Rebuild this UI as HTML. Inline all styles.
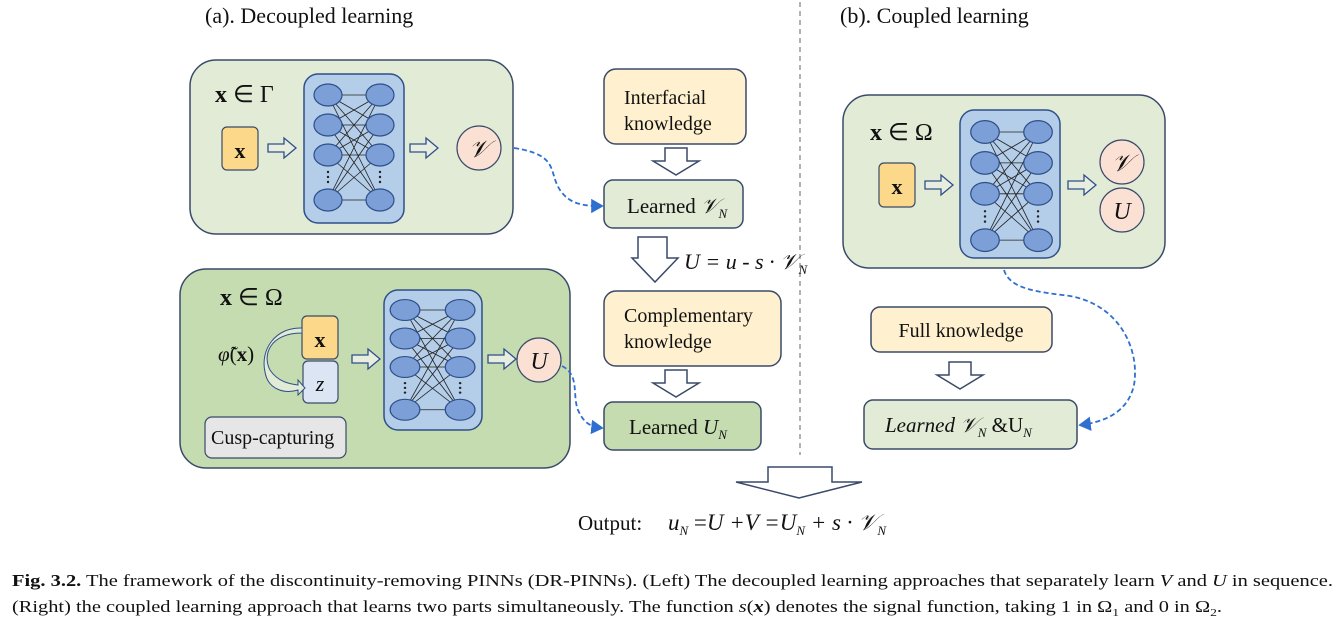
<!DOCTYPE html>
<html><head><meta charset="utf-8"><style>
html,body{margin:0;padding:0;background:#fff;}
svg{display:block;}
text{font-family:"Liberation Serif",serif;fill:#111;}
</style></head><body>
<svg width="1336" height="625" viewBox="0 0 1336 625" xmlns="http://www.w3.org/2000/svg">
<defs>
<g id="nn">
 <g stroke="#222" stroke-width="0.8" fill="none">
  <line x1="0" y1="0" x2="52" y2="0"/><line x1="0" y1="30" x2="52" y2="30"/><line x1="0" y1="60" x2="52" y2="60"/><line x1="0" y1="105" x2="52" y2="105"/>
  <line x1="0" y1="0" x2="52" y2="30"/><line x1="0" y1="0" x2="52" y2="60"/><line x1="0" y1="0" x2="52" y2="105"/>
  <line x1="0" y1="30" x2="52" y2="0"/><line x1="0" y1="30" x2="52" y2="60"/><line x1="0" y1="30" x2="52" y2="105"/>
  <line x1="0" y1="60" x2="52" y2="0"/><line x1="0" y1="60" x2="52" y2="30"/><line x1="0" y1="60" x2="52" y2="105"/>
  <line x1="0" y1="105" x2="52" y2="0"/><line x1="0" y1="105" x2="52" y2="30"/><line x1="0" y1="105" x2="52" y2="60"/>
 </g>
 <g fill="#7b9fd6" stroke="#2e4f8a" stroke-width="1.2">
  <ellipse cx="0" cy="0" rx="14" ry="11"/><ellipse cx="0" cy="30" rx="14" ry="11"/><ellipse cx="0" cy="60" rx="14" ry="11"/><ellipse cx="0" cy="105" rx="14" ry="11"/>
  <ellipse cx="52" cy="0" rx="14" ry="11"/><ellipse cx="52" cy="30" rx="14" ry="11"/><ellipse cx="52" cy="60" rx="14" ry="11"/><ellipse cx="52" cy="105" rx="14" ry="11"/>
 </g>
 <g fill="#222"><circle cx="0" cy="77" r="1.2"/><circle cx="0" cy="82" r="1.2"/><circle cx="0" cy="87" r="1.2"/><circle cx="52" cy="77" r="1.2"/><circle cx="52" cy="82" r="1.2"/><circle cx="52" cy="87" r="1.2"/></g>
</g>
<marker id="ah" markerWidth="8" markerHeight="8" refX="6" refY="4" orient="auto"><path d="M0,0 L7,4 L0,8 z" fill="#2e6fd0"/></marker>
</defs>

<!-- titles -->
<text x="205" y="23" font-size="22">(a). Decoupled learning</text>
<text x="840" y="23" font-size="22">(b). Coupled learning</text>
<line x1="800" y1="2" x2="800" y2="455" stroke="#999" stroke-width="1.5" stroke-dasharray="5,4"/>

<!-- top-left box -->
<rect x="190" y="60" width="323" height="174" rx="26" fill="#e2ebd5" stroke="#3a4a6a" stroke-width="1.5"/>
<text x="215" y="102" font-size="24" font-weight="bold">x<tspan font-weight="normal"> ∈ Γ</tspan></text>
<rect x="304" y="74" width="100" height="149" rx="14" fill="#b4cde8" stroke="#2e4f8a" stroke-width="1.5"/>
<use href="#nn" transform="translate(328,95)"/>
<rect x="222" y="127" width="36" height="43" rx="5" fill="#fcd98a" stroke="#3a4a6a" stroke-width="1.2"/>
<text x="240" y="158" font-size="22" font-weight="bold" text-anchor="middle">x</text>
<path d="M268,144 h16 v-6 l12,10 l-12,10 v-6 h-16 z" fill="#e8eedf" stroke="#2e4f8a" stroke-width="1.3"/>
<path d="M410,144 h16 v-6 l12,10 l-12,10 v-6 h-16 z" fill="#e8eedf" stroke="#2e4f8a" stroke-width="1.3"/>
<circle cx="479" cy="148" r="22" fill="#fbe0d4" stroke="#3a4a6a" stroke-width="1.2"/>
<text x="479" y="157" font-size="24" font-style="italic" text-anchor="middle">𝒱</text>

<!-- bottom-left box -->
<rect x="180" y="269" width="390" height="199" rx="26" fill="#c5dbb0" stroke="#3a4a6a" stroke-width="1.5"/>
<text x="220" y="305" font-size="24" font-weight="bold">x<tspan font-weight="normal"> ∈ Ω</tspan></text>
<rect x="384" y="290" width="98" height="140" rx="14" fill="#b4cde8" stroke="#2e4f8a" stroke-width="1.5"/>
<use href="#nn" transform="translate(405,310) scale(1.06,0.95)"/>
<rect x="302" y="316" width="36" height="43" rx="5" fill="#fcd98a" stroke="#3a4a6a" stroke-width="1.2"/>
<text x="320" y="347" font-size="22" font-weight="bold" text-anchor="middle">x</text>
<rect x="303" y="361" width="35" height="42" rx="5" fill="#dbe5f3" stroke="#3a4a6a" stroke-width="1.2"/>
<text x="320" y="391" font-size="22" font-style="italic" text-anchor="middle">z</text>
<path d="M302,333 C270,333 262,355 270,370 C278,382 290,384 298,385 l0,-5 l7,8 l-7,7 l0,-5 C285,394 268,390 265,372 C260,350 275,327 302,328 z" fill="#e2ebd5" stroke="#2e4f8a" stroke-width="1"/>
<text x="218" y="361" font-size="21"><tspan font-style="italic">φ̃</tspan>(<tspan font-weight="bold">x</tspan>)</text>
<rect x="205" y="417" width="141" height="41" rx="7" fill="#e6e6e6" stroke="#3a4a6a" stroke-width="1.2"/>
<text x="211" y="444" font-size="20">Cusp-capturing</text>
<path d="M352,355 h16 v-6 l12,10 l-12,10 v-6 h-16 z" fill="#e8eedf" stroke="#2e4f8a" stroke-width="1.3"/>
<path d="M488,355 h16 v-6 l12,10 l-12,10 v-6 h-16 z" fill="#e8eedf" stroke="#2e4f8a" stroke-width="1.3"/>
<circle cx="539" cy="360" r="22" fill="#fbe0d4" stroke="#3a4a6a" stroke-width="1.2"/>
<text x="539" y="369" font-size="24" font-style="italic" text-anchor="middle">U</text>

<!-- middle column -->
<rect x="604" y="69" width="142" height="75" rx="12" fill="#fff1cf" stroke="#3a4a6a" stroke-width="1.5"/>
<text x="624" y="104" font-size="20">Interfacial</text>
<text x="624" y="130" font-size="20">knowledge</text>
<path d="M665,148 h22 v13 h12 l-23,14 l-23,-14 h12 z" fill="#fff" stroke="#3a4a6a" stroke-width="1.5"/>
<rect x="604" y="180" width="139" height="48" rx="9" fill="#e2ebd5" stroke="#3a4a6a" stroke-width="1.5"/>
<text x="627" y="213" font-size="21">Learned <tspan font-style="italic">𝒱</tspan><tspan font-size="13" font-style="italic" dy="5">N</tspan></text>
<path d="M638,237 h29 v21 h11 l-23,24 l-23,-24 h6 z" fill="#fff" stroke="#3a4a6a" stroke-width="1.5"/>
<text x="684" y="269" font-size="22" font-style="italic">U = u - s · 𝒱<tspan font-size="13" dy="5">N</tspan></text>
<rect x="604" y="291" width="177" height="75" rx="12" fill="#fff1cf" stroke="#3a4a6a" stroke-width="1.5"/>
<text x="624" y="322" font-size="20">Complementary</text>
<text x="624" y="348" font-size="20">knowledge</text>
<path d="M665,370 h22 v13 h12 l-23,14 l-23,-14 h12 z" fill="#fff" stroke="#3a4a6a" stroke-width="1.5"/>
<rect x="604" y="402" width="157" height="48" rx="9" fill="#c5dbb0" stroke="#3a4a6a" stroke-width="1.5"/>
<text x="629" y="434" font-size="21">Learned <tspan font-style="italic">U</tspan><tspan font-size="13" font-style="italic" dy="5">N</tspan></text>

<!-- dashed connectors left -->
<path d="M514,148 C560,155 548,172 560,190 C570,205 585,206 602,206" fill="none" stroke="#2e6fd0" stroke-width="1.8" stroke-dasharray="5,3" marker-end="url(#ah)"/>
<path d="M562,366 C580,375 572,395 578,410 C584,424 592,427 602,428" fill="none" stroke="#2e6fd0" stroke-width="1.8" stroke-dasharray="5,3" marker-end="url(#ah)"/>

<!-- right box -->
<rect x="843" y="95" width="322" height="173" rx="26" fill="#e2ebd5" stroke="#3a4a6a" stroke-width="1.5"/>
<text x="870" y="140" font-size="24" font-weight="bold">x<tspan font-weight="normal"> ∈ Ω</tspan></text>
<rect x="960" y="110" width="100" height="148" rx="14" fill="#b4cde8" stroke="#2e4f8a" stroke-width="1.5"/>
<use href="#nn" transform="translate(985,132) scale(1.02,1.03)"/>
<rect x="879" y="163" width="36" height="44" rx="5" fill="#fcd98a" stroke="#3a4a6a" stroke-width="1.2"/>
<text x="897" y="194" font-size="22" font-weight="bold" text-anchor="middle">x</text>
<path d="M925,181 h16 v-6 l12,10 l-12,10 v-6 h-16 z" fill="#e8eedf" stroke="#2e4f8a" stroke-width="1.3"/>
<path d="M1068,181 h16 v-6 l12,10 l-12,10 v-6 h-16 z" fill="#e8eedf" stroke="#2e4f8a" stroke-width="1.3"/>
<circle cx="1122" cy="162" r="22" fill="#fbe0d4" stroke="#3a4a6a" stroke-width="1.2"/>
<text x="1122" y="171" font-size="24" font-style="italic" text-anchor="middle">𝒱</text>
<circle cx="1122" cy="210" r="22" fill="#fbe0d4" stroke="#3a4a6a" stroke-width="1.2"/>
<text x="1122" y="219" font-size="24" font-style="italic" text-anchor="middle">U</text>

<rect x="871" y="307" width="181" height="45" rx="9" fill="#fff1cf" stroke="#3a4a6a" stroke-width="1.5"/>
<text x="961" y="337" font-size="20" text-anchor="middle">Full knowledge</text>
<path d="M949,362 h22 v13 h12 l-23,14 l-23,-14 h12 z" fill="#fff" stroke="#3a4a6a" stroke-width="1.5"/>
<rect x="864" y="400" width="213" height="49" rx="9" fill="#e2ebd5" stroke="#3a4a6a" stroke-width="1.5"/>
<text x="885" y="432" font-size="21"><tspan font-style="italic">Learned 𝒱</tspan><tspan font-size="13" font-style="italic" dy="5">N</tspan><tspan dy="-5"> &amp;U</tspan><tspan font-size="13" font-style="italic" dy="5">N</tspan></text>
<path d="M1004,270 C1010,290 1040,292 1070,296 C1120,305 1140,350 1134,385 C1128,412 1105,422 1080,425" fill="none" stroke="#2e6fd0" stroke-width="1.8" stroke-dasharray="5,3" marker-end="url(#ah)"/>

<!-- output -->
<path d="M768,467 h64 v15 h30 l-63,16 l-63,-16 h32 z" fill="#fff" stroke="#3a4a6a" stroke-width="1.5"/>
<text x="578" y="530" font-size="21">Output:</text>
<text x="668" y="530" font-size="23" font-style="italic">u<tspan font-size="13" dy="5">N</tspan><tspan dy="-5" font-style="normal"> =</tspan>U +V =U<tspan font-size="13" dy="5">N</tspan><tspan dy="-5"> + s · 𝒱</tspan><tspan font-size="13" dy="5">N</tspan></text>

<!-- caption -->
<text x="12" y="586" font-size="16.5" textLength="1321" lengthAdjust="spacingAndGlyphs"><tspan font-weight="bold">Fig. 3.2.</tspan> The framework of the discontinuity-removing PINNs (DR-PINNs). (Left) The decoupled learning approaches that separately learn <tspan font-style="italic">V</tspan> and <tspan font-style="italic">U</tspan> in sequence.</text>
<text x="12" y="612" font-size="16.5" textLength="1210" lengthAdjust="spacingAndGlyphs">(Right) the coupled learning approach that learns two parts simultaneously. The function <tspan font-style="italic">s</tspan>(<tspan font-style="italic" font-weight="bold">x</tspan>) denotes the signal function, taking 1 in Ω<tspan font-size="11" dy="4">1</tspan><tspan dy="-4"> and 0 in Ω</tspan><tspan font-size="11" dy="4">2</tspan><tspan dy="-4">.</tspan></text>
</svg>
</body></html>
